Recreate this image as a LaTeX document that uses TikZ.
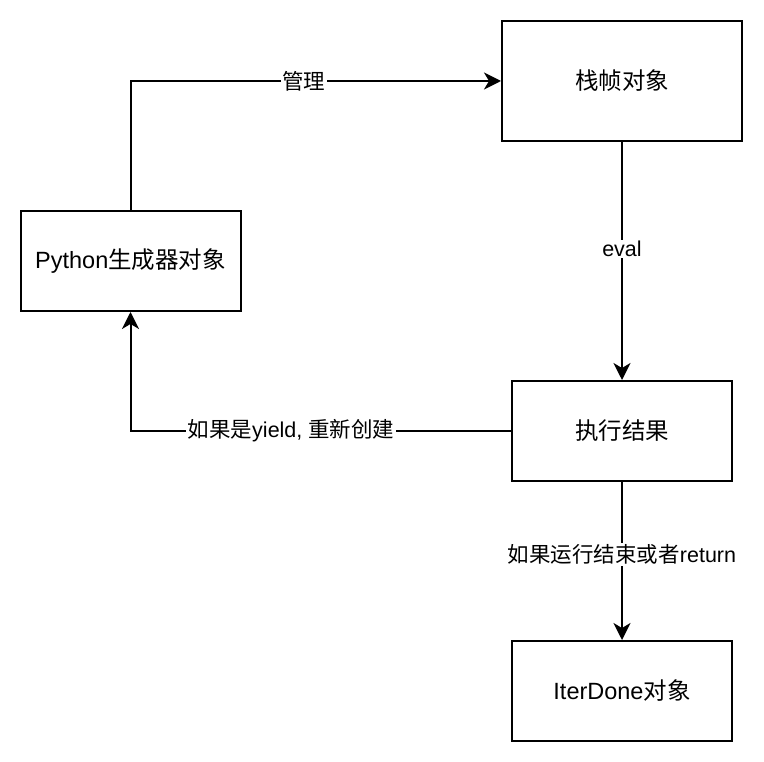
\documentclass[tikz,border=0pt]{standalone}
\usepackage{fontspec}
\setmainfont{Liberation Sans}
\newfontfamily\cjk{Noto Sans CJK SC}
\usetikzlibrary{arrows.meta}
\begin{document}
\begin{tikzpicture}[x=1pt,y=-1pt,line width=2pt,
    >={Stealth[length=17pt,width=17pt,inset=5pt]},
    box/.style={draw,minimum width=220pt,minimum height=100pt,font=\fontsize{23.5pt}{28pt}\selectfont},
    lbl/.style={fill=white,inner sep=1.5pt,font=\fontsize{21.5pt}{26pt}\selectfont}]
        \useasboundingbox (0,0) rectangle (764,762);
        \node[box,minimum width=240pt,minimum height=120pt] (frame) at (622,81){{\cjk 栈帧对象}};
        \node[box] (gen) at (130.5,261){Python{\cjk 生成器对象}};
        \node[box] (result) at (622,431){{\cjk 执行结果}};
        \node[box] (done) at (622,691){IterDone{\cjk 对象}};
        % edges
        \draw[->] (gen.north)|-node[lbl,pos=.734]{{\cjk 管理}}(frame.west);
        \draw[->] (frame.south)--node[lbl,pos=.45]{eval}(result.north);
        \draw[->] (result.west)-|node[lbl,pos=.289]{{\cjk 如果是}yield, {\cjk 重新创建}}(gen.south);
        \draw[->] (result.south)--node[lbl,pos=.46]{{\cjk 如果运行结束或者}return}(done.north);
    \end{tikzpicture}
\end{document}
